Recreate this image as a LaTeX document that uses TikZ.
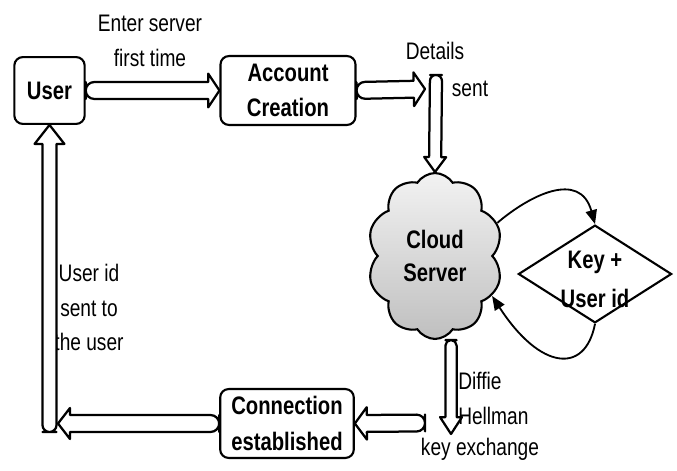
\documentclass[tikz,border=0pt]{standalone}
\usepackage{fontspec}
\setmainfont{Liberation Sans}[FakeStretch=0.8]
\usetikzlibrary{shapes.geometric,shapes.symbols,calc,arrows.meta}
\newcommand\blockarrow[5]{%
\coordinate (ba-a) at #1;
\coordinate (ba-b) at #2;
\coordinate (ba-c) at ($(ba-b)!#5!(ba-a)$);
\draw[blk] (ba-a) [rounded corners=#3] -- ($(ba-a)!#3!90:(ba-b)$) [sharp corners] -- ($(ba-c)!#3!90:(ba-b)$) -- ($(ba-c)!#4!90:(ba-b)$) -- (ba-b) -- ($(ba-c)!#4!-90:(ba-b)$) -- ($(ba-c)!#3!-90:(ba-b)$) [rounded corners=#3] -- ($(ba-a)!#3!-90:(ba-b)$) -- cycle;}

\begin{document}
\begin{tikzpicture}[x=0.025cm,y=-0.025cm,
box/.style={draw,line width=1.5pt,rounded corners=6pt,align=center,font=\bfseries\fontsize{18}{25}\selectfont},
lbl/.style={inner sep=0pt,align=center,font=\fontsize{17}{24.8}\selectfont},
blk/.style={draw,fill=white,line width=1.6pt,line join=round},
arw/.style={line width=1.3pt,-{Triangle[length=10pt,width=8pt]}}]
\useasboundingbox (0,0) rectangle (677,471);
\node[box,minimum width=50pt,minimum height=47.5pt] (usr) at (49.5,90.5) {User};
\node[box,minimum width=96pt,minimum height=49pt] (acc) at (288,90.5) {Account\\Creation};
\node[box,minimum width=95pt,minimum height=49pt] (con) at (287,423.5) {Connection\\established};
\node[cloud,cloud puffs=10,cloud puff arc=115,cloud ignores aspect,draw,line width=1.5pt,top color=gray!10,bottom color=gray!50,minimum width=96pt,minimum height=118pt,align=center,font=\bfseries\fontsize{18}{24}\selectfont] (srv) at (435,256) {Cloud\\Server};
\node[diamond,draw,line width=1.5pt,minimum width=109pt,minimum height=69.5pt,inner sep=0pt,label={[align=center,font=\bfseries\fontsize{18}{28}\selectfont,yshift=-4pt]center:Key +\\User id}] (key) at (595,274) {};
\node[lbl] (ent) at (150,41) {Enter server\\first time};
\node[lbl] (dtl) at (435,51) {Details};
\node[lbl] (snt) at (470,89) {sent};
\node[lbl] (uid) at (89,307.5) {User id\\sent to\\the user};
\node[lbl,align=left,anchor=west] (dhm) at (458,398.5) {Diffie\\Hellman};
\node[lbl] (kex) at (480,449) {key exchange};
\coordinate (dr) at (425,89);
\coordinate (dtop) at (436,75);
\coordinate (dhk) at (451,434);
\coordinate (dhl) at (425,423);
\coordinate (ulft) at (58,423.5);
\coordinate (ubot) at (49.5,432);
\blockarrow{(usr.east)}{(acc.west)}{6pt}{12pt}{8pt}
\blockarrow{(acc.east)}{(dr)}{6pt}{12pt}{8pt}
\blockarrow{(dtop)}{(srv.north)}{4.3pt}{7.8pt}{10.6pt}
\blockarrow{(srv.south -| dhk)}{(dhk)}{4pt}{7.8pt}{12pt}
\blockarrow{(dhl)}{(con.east)}{6pt}{11.5pt}{8.5pt}
\blockarrow{(con.west)}{(ulft)}{6pt}{11pt}{8.5pt}
\blockarrow{(ubot)}{(usr.south)}{5pt}{10.6pt}{13.5pt}
\draw[arw] (srv.28) .. controls (530,195) and (580,170) .. (key.north);
\draw[arw] (key.south) .. controls (585,375) and (540,370) .. (srv.-35);
\end{tikzpicture}
\end{document}
